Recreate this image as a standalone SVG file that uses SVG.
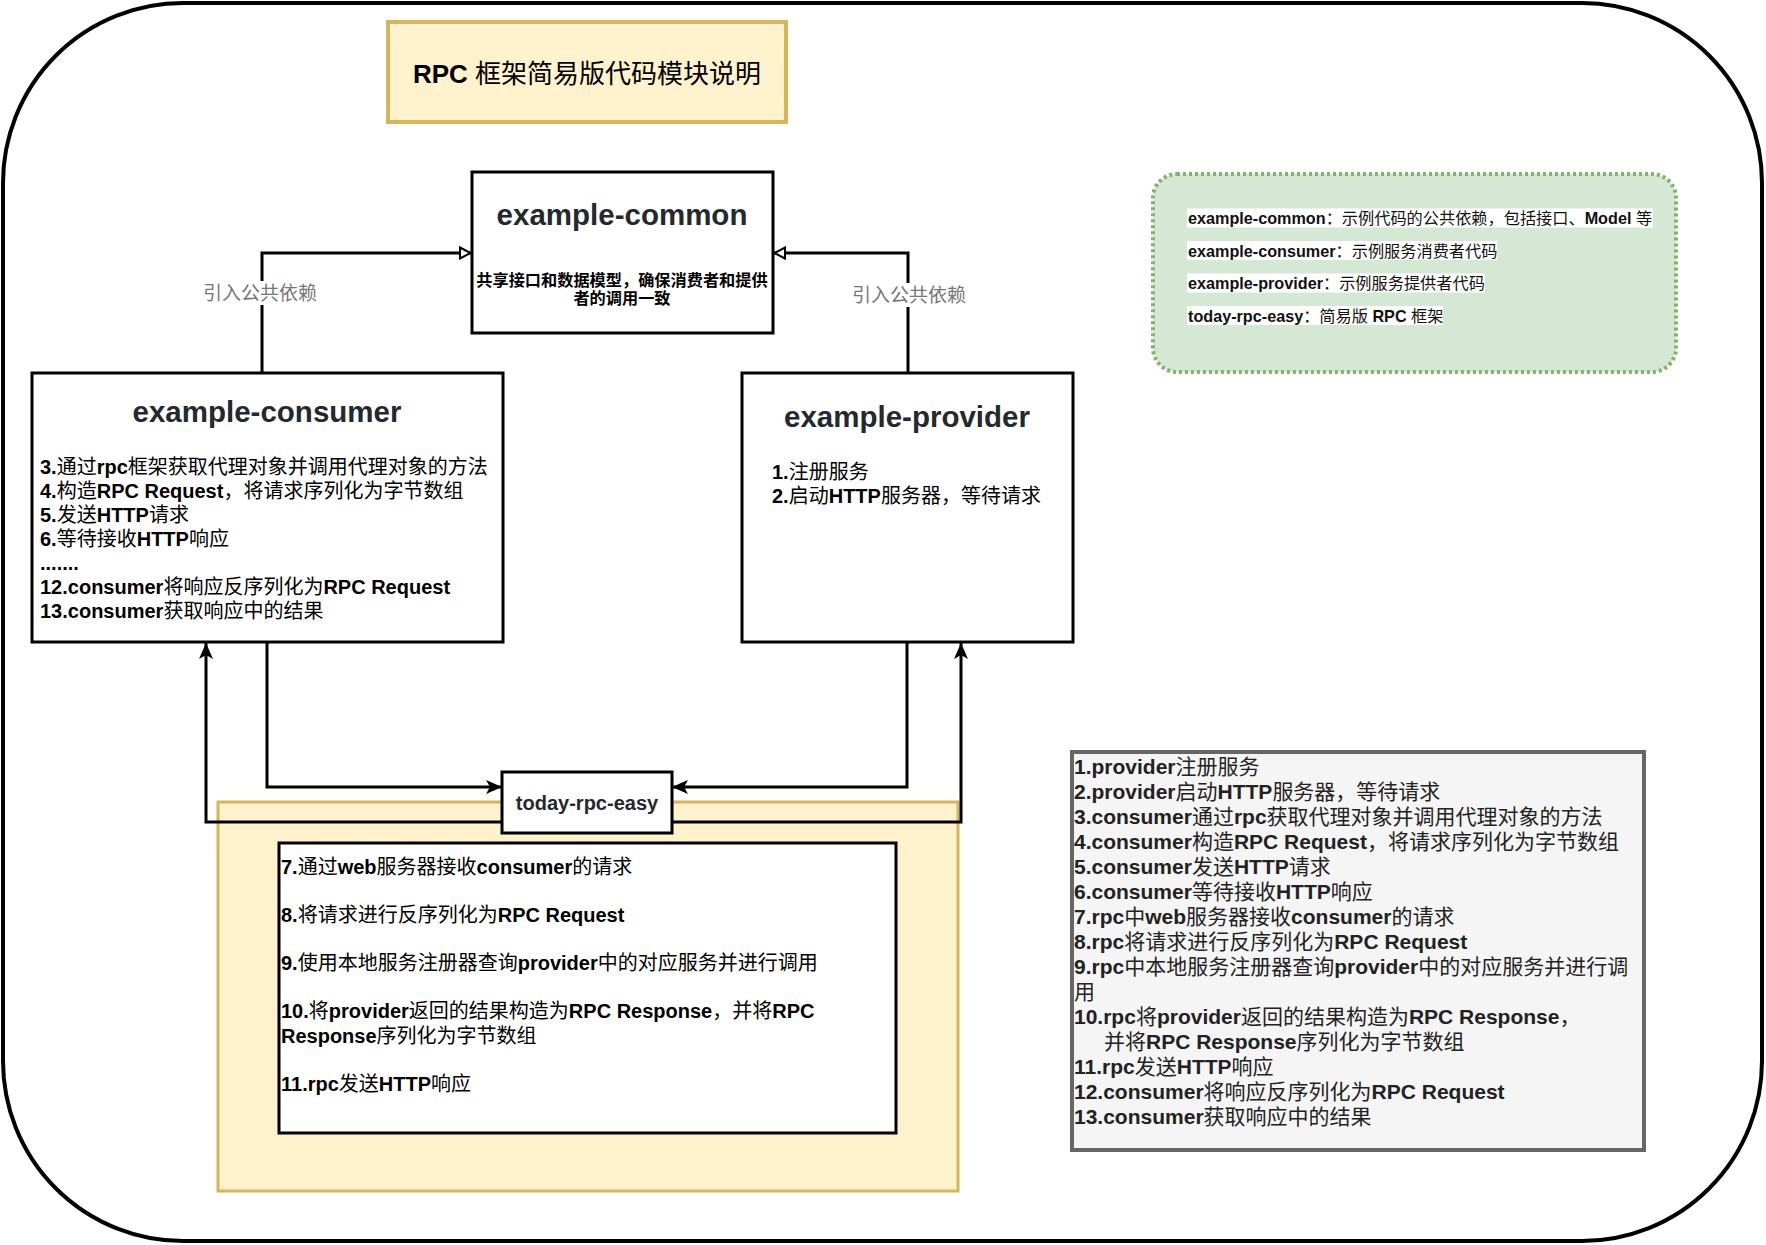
<svg xmlns="http://www.w3.org/2000/svg" width="1766" height="1245" viewBox="0 0 1766 1245">
<defs>
<style>
.f{font-family:"Liberation Sans","Noto Sans CJK SC",sans-serif;}
.n{font-weight:normal}
.box{fill:#fff;stroke:#000;stroke-width:3}
.ttl{font-family:"Liberation Sans","Noto Sans CJK SC",sans-serif;font-weight:bold;font-size:29.5px;fill:#24292e;text-anchor:middle}
.body{font-family:"Liberation Sans","Noto Sans CJK SC",sans-serif;font-weight:bold;font-size:20px;fill:#000}
.gray{font-family:"Liberation Sans","Noto Sans CJK SC",sans-serif;font-weight:bold;font-size:21px;fill:#222}
.green{font-family:"Liberation Sans","Noto Sans CJK SC",sans-serif;font-weight:bold;font-size:16.2px;fill:#111}
.conn{fill:none;stroke:#000;stroke-width:3}
.lbl{font-family:"Noto Sans CJK SC",sans-serif;font-size:19px;fill:#777;text-anchor:middle}
</style>
<marker id="arr" markerUnits="userSpaceOnUse" markerWidth="16" markerHeight="14" viewBox="0 0 16 14" refX="16" refY="7" orient="auto"><path d="M0,0 L16,7 L0,14 L4,7 z" fill="#000"/></marker>
<marker id="open" markerUnits="userSpaceOnUse" markerWidth="14" markerHeight="14" viewBox="0 0 14 14" refX="12.5" refY="7" orient="auto"><path d="M1.5,1.5 L12,7 L1.5,12.5 z" fill="#fff" stroke="#000" stroke-width="2"/></marker>
</defs>

<g id="frame"><rect x="3" y="3" width="1759" height="1238" rx="180" ry="180" fill="#fff" stroke="#000" stroke-width="4"/></g>

<g id="title">
<rect x="388" y="22" width="398" height="100" fill="#fff2cc" stroke="#d6b656" stroke-width="4"/>
<text class="f" x="587" y="83" font-size="26" font-weight="bold" text-anchor="middle" fill="#000">RPC <tspan class="n">框架简易版代码模块说明</tspan></text>
</g>

<g id="legend">
<rect x="1153" y="174" width="523" height="198" rx="24" ry="24" fill="#d5e8d4" stroke="#82b366" stroke-width="4" stroke-dasharray="3 3"/>
<rect x="1187" y="208.5" width="466" height="19" fill="#fff"/>
<rect x="1187" y="241" width="310" height="19" fill="#fff"/>
<rect x="1187" y="273.5" width="298" height="19" fill="#fff"/>
<rect x="1187" y="306" width="256" height="19" fill="#fff"/>
<text class="green" x="1188" y="224">example-common<tspan class="n">：示例代码的公共依赖，包括接口、</tspan>Model <tspan class="n">等</tspan></text>
<text class="green" x="1188" y="256.5">example-consumer<tspan class="n">：示例服务消费者代码</tspan></text>
<text class="green" x="1188" y="289">example-provider<tspan class="n">：示例服务提供者代码</tspan></text>
<text class="green" x="1188" y="321.5">today-rpc-easy<tspan class="n">：简易版 </tspan>RPC <tspan class="n">框架</tspan></text>
</g>

<g id="rpc-container">
<rect x="218" y="802" width="740" height="389" fill="#fff2cc" stroke="#d6b656" stroke-width="3"/>
</g>

<g id="rpc-steps">
<rect x="279" y="843" width="617" height="290" class="box"/>
<text class="body" x="281" y="874">7.<tspan class="n">通过</tspan>web<tspan class="n">服务器接收</tspan>consumer<tspan class="n">的请求</tspan></text>
<text class="body" x="281" y="922">8.<tspan class="n">将请求进行反序列化为</tspan>RPC Request</text>
<text class="body" x="281" y="970">9.<tspan class="n">使用本地服务注册器查询</tspan>provider<tspan class="n">中的对应服务并进行调用</tspan></text>
<text class="body" x="281" y="1018">10.<tspan class="n">将</tspan>provider<tspan class="n">返回的结果构造为</tspan>RPC Response<tspan class="n">，并将</tspan>RPC</text>
<text class="body" x="281" y="1043">Response<tspan class="n">序列化为字节数组</tspan></text>
<text class="body" x="281" y="1091">11.rpc<tspan class="n">发送</tspan>HTTP<tspan class="n">响应</tspan></text>
</g>

<g id="common">
<rect x="472" y="172" width="301" height="161" class="box"/>
<text class="ttl" x="622" y="225">example-common</text>
<text class="f" x="622" y="286" font-size="16.2" font-weight="bold" text-anchor="middle" fill="#000">共享接口和数据模型，确保消费者和提供</text>
<text class="f" x="622" y="304" font-size="16.2" font-weight="bold" text-anchor="middle" fill="#000">者的调用一致</text>
</g>

<g id="consumer">
<rect x="32" y="373" width="471" height="269" class="box"/>
<text class="ttl" x="267" y="422">example-consumer</text>
<text class="body" x="40" y="474">3.<tspan class="n">通过</tspan>rpc<tspan class="n">框架获取代理对象并调用代理对象的方法</tspan></text>
<text class="body" x="40" y="498">4.<tspan class="n">构造</tspan>RPC Request<tspan class="n">，将请求序列化为字节数组</tspan></text>
<text class="body" x="40" y="522">5.<tspan class="n">发送</tspan>HTTP<tspan class="n">请求</tspan></text>
<text class="body" x="40" y="546">6.<tspan class="n">等待接收</tspan>HTTP<tspan class="n">响应</tspan></text>
<text class="body" x="40" y="570">.......</text>
<text class="body" x="40" y="594">12.consumer<tspan class="n">将响应反序列化为</tspan>RPC Request</text>
<text class="body" x="40" y="618">13.consumer<tspan class="n">获取响应中的结果</tspan></text>
</g>

<g id="provider">
<rect x="742" y="373" width="331" height="269" class="box"/>
<text class="ttl" x="907" y="427">example-provider</text>
<text class="body" x="772" y="479">1.<tspan class="n">注册服务</tspan></text>
<text class="body" x="772" y="503">2.<tspan class="n">启动</tspan>HTTP<tspan class="n">服务器，等待请求</tspan></text>
</g>

<g id="connectors">
<path class="conn" d="M262,373 V253 H471" marker-end="url(#open)"/>
<path class="conn" d="M908,373 V253 H774" marker-end="url(#open)"/>
<path class="conn" d="M267,643 V787 H502" marker-end="url(#arr)"/>
<path class="conn" d="M907,643 V787 H672" marker-end="url(#arr)"/>
<path class="conn" d="M502,822 H206 V643" marker-end="url(#arr)"/>
<path class="conn" d="M672,822 H961 V643" marker-end="url(#arr)"/>
<rect x="201" y="281" width="118" height="24" fill="#fff"/>
<text class="lbl" x="260" y="300">引入公共依赖</text>
<rect x="850" y="283" width="118" height="24" fill="#fff"/>
<text class="lbl" x="909" y="302">引入公共依赖</text>
</g>

<g id="today-rpc-easy">
<rect x="502" y="772" width="170" height="61" class="box"/>
<text class="f" x="587" y="810" font-size="20" font-weight="bold" text-anchor="middle" fill="#24292e">today-rpc-easy</text>
</g>

<g id="flow-steps">
<rect x="1072" y="752" width="572" height="398" fill="#f5f5f5" stroke="#666" stroke-width="4"/>
<text class="gray" x="1074" y="774">1.provider<tspan class="n">注册服务</tspan></text>
<text class="gray" x="1074" y="799">2.provider<tspan class="n">启动</tspan>HTTP<tspan class="n">服务器，等待请求</tspan></text>
<text class="gray" x="1074" y="824">3.consumer<tspan class="n">通过</tspan>rpc<tspan class="n">获取代理对象并调用代理对象的方法</tspan></text>
<text class="gray" x="1074" y="849">4.consumer<tspan class="n">构造</tspan>RPC Request<tspan class="n">，将请求序列化为字节数组</tspan></text>
<text class="gray" x="1074" y="874">5.consumer<tspan class="n">发送</tspan>HTTP<tspan class="n">请求</tspan></text>
<text class="gray" x="1074" y="899">6.consumer<tspan class="n">等待接收</tspan>HTTP<tspan class="n">响应</tspan></text>
<text class="gray" x="1074" y="924">7.rpc<tspan class="n">中</tspan>web<tspan class="n">服务器接收</tspan>consumer<tspan class="n">的请求</tspan></text>
<text class="gray" x="1074" y="949">8.rpc<tspan class="n">将请求进行反序列化为</tspan>RPC Request</text>
<text class="gray" x="1074" y="974">9.rpc<tspan class="n">中本地服务注册器查询</tspan>provider<tspan class="n">中的对应服务并进行调</tspan></text>
<text class="gray" x="1074" y="999"><tspan class="n">用</tspan></text>
<text class="gray" x="1074" y="1024">10.rpc<tspan class="n">将</tspan>provider<tspan class="n">返回的结果构造为</tspan>RPC Response<tspan class="n">，</tspan></text>
<text class="gray" x="1104" y="1049"><tspan class="n">并将</tspan>RPC Response<tspan class="n">序列化为字节数组</tspan></text>
<text class="gray" x="1074" y="1074">11.rpc<tspan class="n">发送</tspan>HTTP<tspan class="n">响应</tspan></text>
<text class="gray" x="1074" y="1099">12.consumer<tspan class="n">将响应反序列化为</tspan>RPC Request</text>
<text class="gray" x="1074" y="1124">13.consumer<tspan class="n">获取响应中的结果</tspan></text>
</g>
</svg>
